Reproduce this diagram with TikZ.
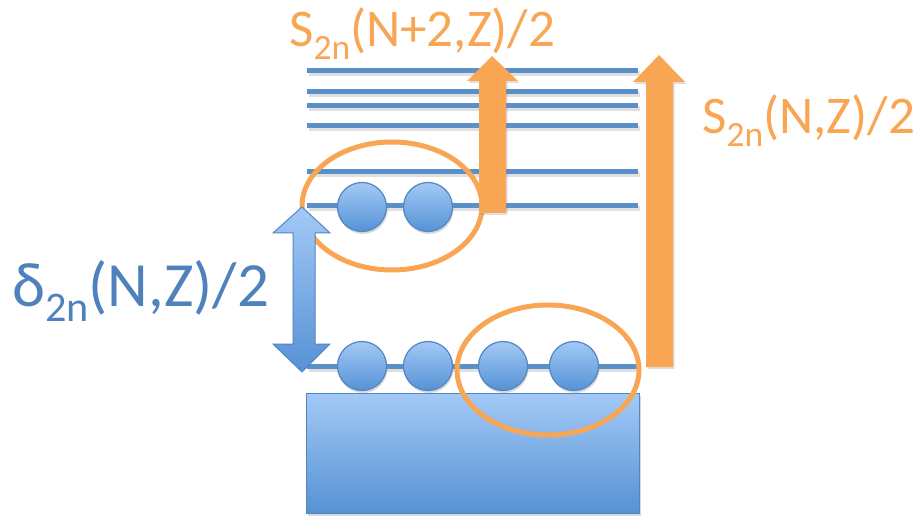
\documentclass[tikz,border=0pt]{standalone}
\usepackage{fontspec}
\setmainfont{Carlito}
\usepackage{graphicx}
\usetikzlibrary{shadows}

\definecolor{levelblue}{RGB}{91,143,199}
\definecolor{balltop}{RGB}{163,201,246}
\definecolor{ballbot}{RGB}{86,146,213}
\definecolor{ballrim}{RGB}{82,134,195}
\definecolor{pairorange}{RGB}{248,166,84}
\definecolor{labelblue}{RGB}{79,129,189}

\newcommand{\lowsub}[1]{\raisebox{-0.24em}{\scalebox{0.67}{#1}}}

\begin{document}
\begin{tikzpicture}[x=1pt,y=-1pt,
    level/.style={draw=levelblue, line width=5pt},
    levelshade/.style={draw=black, opacity=0.12, line width=5pt},
    ball/.style={circle, draw=ballrim, line width=1.2pt, minimum size=49pt, inner sep=0pt,
        top color=balltop, bottom color=ballbot,
        drop shadow={opacity=0.3, shadow xshift=1pt, shadow yshift=-2.5pt}},
    pairring/.style={draw=pairorange, line width=5pt},
    bigarrow/.style={fill=pairorange, drop shadow={opacity=0.25, shadow xshift=1.5pt, shadow yshift=-2pt}},
    gaparrow/.style={draw=ballrim, line width=1pt, top color=balltop, bottom color=ballbot},
    label/.style={inner sep=0pt, anchor=base west}]
\useasboundingbox (0,0) rectangle (917,518);

% single-particle levels
\foreach \y in {71,92,106,126,172,206} {
  \draw[levelshade] (309,\y+3) -- (640,\y+3);
  \draw[level] (307,\y) -- (638,\y);
}
\draw[levelshade] (309,369) -- (639,369);
\draw[level] (307,366) -- (637,366);

% core
\draw[draw=ballrim, line width=1pt, top color=balltop, bottom color=ballbot,
  drop shadow={opacity=0.3, shadow xshift=1.5pt, shadow yshift=-2.5pt}]
  (306,393) rectangle (639,513);

% nucleon pairs
\node[ball] (u1) at (362,207) {};
\node[ball] (u2) at (428,207) {};
\node[ball] (b1) at (362,366) {};
\node[ball] (b2) at (428,366) {};
\node[ball] (b3) at (503,366) {};
\node[ball] (b4) at (574,366) {};

\draw[pairring] (392,206) ellipse [x radius=90pt, y radius=64pt];
\draw[pairring] (548,370) ellipse [x radius=91pt, y radius=65pt];

% separation energies
\fill[bigarrow] (492,56) -- (518,81) -- (506,81) -- (506,213) -- (479,213)
  -- (479,81) -- (467,81) -- cycle;
\fill[bigarrow] (659,55) -- (685,82) -- (673,82) -- (673,367) -- (646,367)
  -- (646,82) -- (633,82) -- cycle;

% pairing gap
\draw[gaparrow] (302,207) -- (330,233) -- (315,233) -- (315,344) -- (330,344)
  -- (302,372) -- (273,344) -- (293,344) -- (293,233) -- (273,233) -- cycle;

\node[label, text=pairorange, font=\fontsize{53}{58}\selectfont] (snplus) at (289,47)
  {S\lowsub{2n}(N+2,Z)/2};
\node[label, text=pairorange, font=\fontsize{53}{58}\selectfont] (sn) at (702,134)
  {S\lowsub{2n}(N,Z)/2};
\node[label, text=labelblue, font=\fontsize{63}{68}\selectfont] (delta) at (12,306)
  {δ\lowsub{2n}(N,Z)/2};
\end{tikzpicture}
\end{document}
